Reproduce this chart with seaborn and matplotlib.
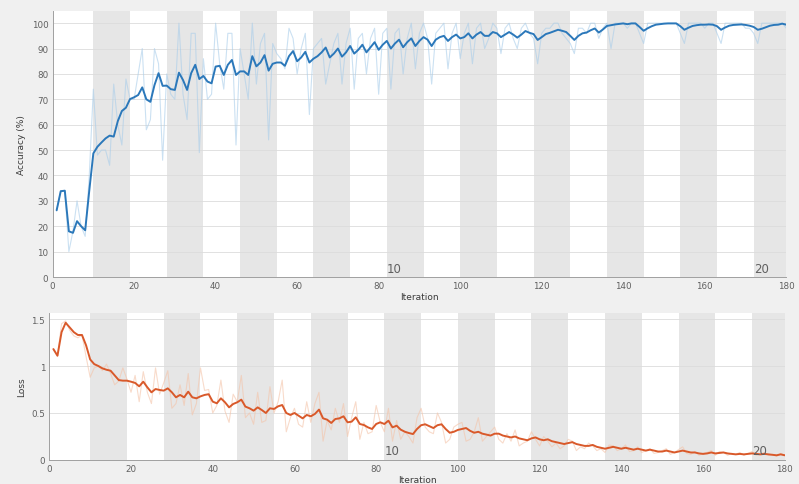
import numpy as np
import pandas as pd
import matplotlib
matplotlib.use("Agg")
import matplotlib.pyplot as plt
import seaborn as sns

# Training progress values (one value per iteration)
acc_raw = [26, 34, 34, 10, 18, 30, 20, 16, 40, 74,
           48, 50, 50, 44, 76, 60, 52, 78, 70, 70,
           80, 90, 58, 62, 90, 84, 46, 80, 72, 70,
           100, 72, 62, 96, 96, 49, 86, 70, 72, 100,
           84, 74, 96, 96, 52, 90, 80, 70, 100, 76,
           92, 96, 54, 92, 88, 86, 82, 98, 94, 80,
           90, 96, 64, 90, 92, 94, 76, 84, 92, 96,
           76, 92, 98, 74, 94, 96, 80, 94, 98, 72,
           96, 98, 74, 96, 98, 80, 94, 100, 82, 96,
           100, 94, 76, 96, 98, 100, 82, 96, 100, 86,
           96, 100, 84, 98, 100, 90, 94, 100, 98, 88,
           98, 100, 94, 90, 98, 100, 96, 94, 84, 96,
           98, 98, 100, 100, 96, 94, 92, 88, 98, 98,
           96, 100, 100, 94, 98, 100, 90, 100, 100, 100,
           98, 100, 100, 96, 92, 100, 100, 100, 100, 100,
           100, 100, 100, 96, 92, 100, 100, 100, 100, 98,
           100, 100, 96, 92, 100, 100, 100, 100, 100, 98,
           98, 96, 92, 100, 100, 100, 100, 100, 100, 98]

acc_smooth = [26.3, 33.8, 34.0, 18.0, 17.4, 22.0, 20.0, 18.4, 34.0, 48.7,
              51.3, 53.0, 54.6, 55.7, 55.3, 61.4, 65.4, 66.7, 70.1, 70.8,
              71.7, 74.7, 70.0, 69.0, 75.6, 80.3, 75.3, 75.4, 74.0, 73.7,
              80.5, 77.6, 73.7, 80.3, 83.6, 78.0, 79.2, 77.0, 76.3, 82.9,
              83.2, 79.6, 83.6, 85.5, 79.6, 81.0, 81.0, 79.6, 87.0, 83.0,
              84.5, 87.4, 81.3, 84.0, 84.5, 84.5, 83.2, 87.0, 89.0, 85.0,
              86.5, 88.7, 84.5, 86.0, 87.0, 88.5, 90.4, 86.5, 88.0, 90.0,
              86.8, 88.5, 91.0, 88.0, 89.5, 91.5, 88.5, 90.5, 92.5, 89.5,
              91.5, 93.0, 90.0, 92.0, 93.5, 90.5, 92.5, 94.0, 91.0, 93.0,
              94.5, 93.5, 91.0, 93.5, 94.5, 95.0, 93.0, 94.5, 95.5, 94.0,
              94.5, 96.0, 94.0, 95.5, 96.5, 95.0, 95.0, 96.5, 96.0, 94.5,
              95.5, 96.5, 95.5, 94.3, 95.5, 96.9, 96.2, 95.7, 93.4, 94.5,
              95.7, 96.2, 96.8, 97.4, 97.0, 96.5, 95.0, 93.4, 95.0, 96.0,
              96.3, 97.2, 97.9, 96.3, 97.5, 98.9, 99.2, 99.5, 99.7, 99.9,
              99.6, 99.9, 99.9, 98.5, 97.0, 98.0, 98.8, 99.4, 99.6, 99.8,
              99.9, 99.9, 99.9, 98.8, 97.4, 98.2, 98.9, 99.2, 99.4, 99.4,
              99.5, 99.4, 98.8, 97.4, 98.3, 99.0, 99.3, 99.4, 99.5, 99.3,
              99.0, 98.5, 97.4, 97.8, 98.4, 99.0, 99.3, 99.4, 99.8, 99.4]

loss_raw = [1.18, 1.10, 1.45, 1.48, 1.38, 1.32, 1.30, 1.33, 1.10, 0.88,
            0.98, 1.00, 0.95, 1.02, 0.92, 0.80, 0.84, 0.98, 0.86, 0.72,
            0.90, 0.62, 0.94, 0.72, 0.60, 0.98, 0.70, 0.82, 0.95, 0.55,
            0.60, 0.80, 0.58, 0.92, 0.48, 0.60, 0.98, 0.74, 0.75, 0.50,
            0.58, 0.85, 0.52, 0.40, 0.70, 0.62, 0.90, 0.45, 0.50, 0.38,
            0.72, 0.40, 0.42, 0.78, 0.50, 0.62, 0.85, 0.30, 0.45, 0.55,
            0.38, 0.35, 0.62, 0.40, 0.60, 0.72, 0.20, 0.42, 0.32, 0.55,
            0.40, 0.60, 0.25, 0.45, 0.62, 0.22, 0.40, 0.28, 0.30, 0.58,
            0.40, 0.30, 0.55, 0.20, 0.42, 0.22, 0.30, 0.25, 0.18, 0.45,
            0.55, 0.35, 0.30, 0.28, 0.50, 0.40, 0.18, 0.22, 0.35, 0.38,
            0.40, 0.20, 0.22, 0.30, 0.45, 0.20, 0.25, 0.30, 0.35, 0.22,
            0.18, 0.28, 0.20, 0.32, 0.15, 0.18, 0.20, 0.30, 0.22, 0.15,
            0.25, 0.20, 0.14, 0.18, 0.12, 0.15, 0.22, 0.20, 0.10, 0.14,
            0.12, 0.18, 0.15, 0.10, 0.12, 0.08, 0.16, 0.15, 0.10, 0.12,
            0.16, 0.09, 0.10, 0.14, 0.08, 0.10, 0.12, 0.07, 0.08, 0.10,
            0.12, 0.06, 0.08, 0.11, 0.14, 0.07, 0.06, 0.09, 0.05, 0.07,
            0.08, 0.10, 0.05, 0.09, 0.08, 0.05, 0.07, 0.06, 0.08, 0.05,
            0.07, 0.09, 0.05, 0.06, 0.08, 0.05, 0.06, 0.04, 0.07, 0.05]

loss_smooth = [1.18, 1.11, 1.36, 1.46, 1.41, 1.36, 1.33, 1.33, 1.22, 1.07,
               1.02, 1.00, 0.975, 0.96, 0.95, 0.90, 0.85, 0.844, 0.844, 0.833,
               0.82, 0.784, 0.833, 0.773, 0.72, 0.755, 0.745, 0.738, 0.762, 0.72,
               0.667, 0.692, 0.667, 0.727, 0.667, 0.656, 0.677, 0.692, 0.70, 0.621,
               0.603, 0.656, 0.614, 0.56, 0.596, 0.614, 0.642, 0.568, 0.55, 0.525,
               0.56, 0.532, 0.50, 0.55, 0.543, 0.571, 0.585, 0.50, 0.479, 0.50,
               0.472, 0.443, 0.479, 0.465, 0.49, 0.536, 0.443, 0.429, 0.394, 0.436,
               0.443, 0.465, 0.401, 0.408, 0.454, 0.383, 0.372, 0.347, 0.33, 0.383,
               0.401, 0.383, 0.418, 0.347, 0.365, 0.323, 0.301, 0.287, 0.276, 0.33,
               0.37, 0.38, 0.36, 0.34, 0.37, 0.38, 0.33, 0.29, 0.30, 0.32,
               0.33, 0.34, 0.31, 0.29, 0.30, 0.28, 0.27, 0.26, 0.28, 0.28,
               0.26, 0.25, 0.24, 0.25, 0.23, 0.22, 0.21, 0.23, 0.24, 0.22,
               0.21, 0.22, 0.20, 0.19, 0.18, 0.17, 0.18, 0.19, 0.17, 0.16,
               0.15, 0.15, 0.16, 0.14, 0.13, 0.12, 0.13, 0.14, 0.13, 0.12,
               0.13, 0.12, 0.11, 0.12, 0.11, 0.10, 0.11, 0.10, 0.09, 0.09,
               0.10, 0.09, 0.08, 0.09, 0.10, 0.09, 0.08, 0.08, 0.07, 0.065,
               0.07, 0.08, 0.07, 0.075, 0.08, 0.07, 0.065, 0.06, 0.065, 0.06,
               0.065, 0.07, 0.065, 0.06, 0.065, 0.06, 0.055, 0.05, 0.06, 0.05]

iters_per_epoch = 9
n_epochs = 20
epoch_labels = ["10", "20"]

sns.set_style("white")
plt.rcParams['font.family'] = ['DejaVu Sans']

fig = plt.figure(figsize=(7.99, 4.85), dpi=100, facecolor='#f0f0f0')
ax1 = fig.add_axes([0.0658, 0.4268, 0.9183, 0.5485])
ax2 = fig.add_axes([0.0617, 0.0495, 0.9205, 0.3031])

tick_color = '#606060'


def style_axes(ax, ymax, yticks, ylabel):
    ax.set_facecolor('white')
    ax.set_xlim(0, 180)
    ax.set_ylim(0, ymax)
    # alternate epochs shaded
    for e in range(1, n_epochs, 2):
        ax.axvspan(e * iters_per_epoch + 1, (e + 1) * iters_per_epoch + 1,
                   color='#e6e6e6', lw=0, zorder=0)
    ax.set_axisbelow(True)
    ax.yaxis.grid(True, color='#dcdcdc', lw=0.6)
    ax.set_xticks(range(0, 181, 20))
    ax.set_yticks(yticks)
    ax.tick_params(direction='in', length=3, width=0.6, colors=tick_color,
                   labelsize=6.3, pad=3)
    for s in ['top', 'right']:
        ax.spines[s].set_visible(False)
    for s in ['left', 'bottom']:
        ax.spines[s].set_color('#a0a0a0')
        ax.spines[s].set_linewidth(0.7)
    ax.set_xlabel('Iteration', fontsize=6.5, color='#3a3a3a', labelpad=1)
    ax.set_ylabel(ylabel, fontsize=6.5, color='#3a3a3a', labelpad=4)


df_acc = pd.DataFrame({'Iteration': np.arange(1, len(acc_raw) + 1), 'Accuracy': acc_raw})
df_acc_s = pd.DataFrame({'Iteration': np.arange(1, len(acc_smooth) + 1), 'Accuracy': acc_smooth})
df_loss = pd.DataFrame({'Iteration': np.arange(1, len(loss_raw) + 1), 'Loss': loss_raw})
df_loss_s = pd.DataFrame({'Iteration': np.arange(1, len(loss_smooth) + 1), 'Loss': loss_smooth})

# accuracy panel
sns.lineplot(data=df_acc, x='Iteration', y='Accuracy', ax=ax1, color='#a9cdea',
             lw=0.8, alpha=0.6, zorder=2)
sns.lineplot(data=df_acc_s, x='Iteration', y='Accuracy', ax=ax1, color='#2b78ba',
             lw=1.4, zorder=3)
style_axes(ax1, 104.8, range(0, 101, 10), 'Accuracy (%)')

# loss panel
sns.lineplot(data=df_loss, x='Iteration', y='Loss', ax=ax2, color='#f4c3a8',
             lw=0.8, alpha=0.6, zorder=2)
sns.lineplot(data=df_loss_s, x='Iteration', y='Loss', ax=ax2, color='#d9592a',
             lw=1.4, zorder=3)
style_axes(ax2, 1.564, [0, 0.5, 1, 1.5], 'Loss')
ax2.set_yticklabels(['0', '0.5', '1', '1.5'])

# epoch markers
for lab in epoch_labels:
    x0 = (int(lab) - 1) * iters_per_epoch + 1
    ax1.text(x0, 0.8, lab, fontsize=8.5, color='#606060', ha='left', va='bottom')
    ax2.text(x0, 0.035, lab, fontsize=8.5, color='#606060', ha='left', va='bottom')

fig.savefig('out.png', dpi=100, facecolor=fig.get_facecolor())
